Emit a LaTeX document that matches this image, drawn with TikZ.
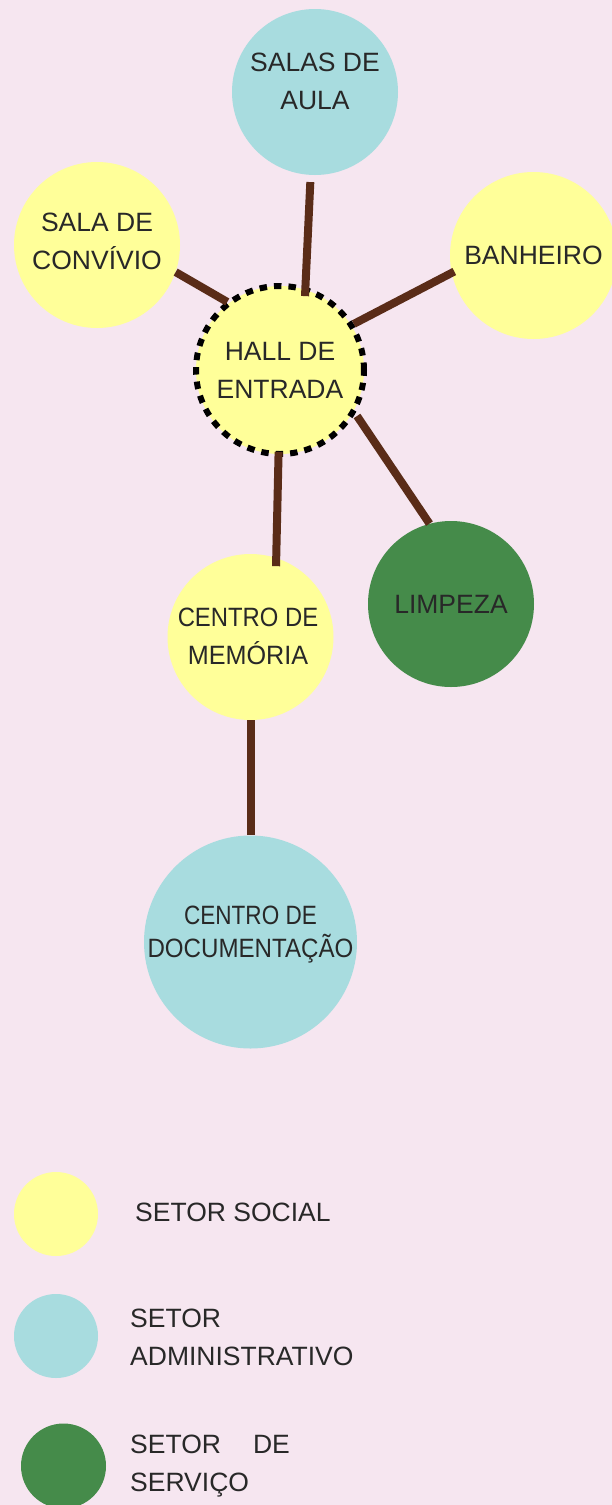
\documentclass[tikz,border=0pt]{standalone}
\usepackage{fontspec}
\setmainfont{Liberation Sans}
\usepackage{tikz}
\usetikzlibrary{positioning, backgrounds}
\definecolor{BGPink}{RGB}{246,230,240}
\definecolor{SocYellow}{RGB}{255,255,153}
\definecolor{AdmCyan}{RGB}{168,220,223}
\definecolor{SrvGreen}{RGB}{69,139,74}
\definecolor{LinkBrown}{RGB}{90,44,24}
\definecolor{TxtGray}{RGB}{40,40,40}

\begin{document}
\begin{tikzpicture}[x=1pt, y=-1pt,
          room/.style={circle, draw=none, inner sep=0pt},
          rtxt/.style={align=center, inner sep=0pt, text=TxtGray,
                       font=\fontsize{26.5}{38}\selectfont},
          ltxt/.style={align=left, anchor=west, inner sep=0pt, text=TxtGray,
                       font=\fontsize{26.5}{38}\selectfont},
          link/.style={LinkBrown, line width=8pt}
        ]
        \useasboundingbox (0,0) rectangle (612,1505);
        \fill[BGPink] (0,0) rectangle (612,1505);

        % rooms
        \node[room, fill=AdmCyan, minimum size=166pt]   (salas) at (315,92) {};
        \node[room, fill=SocYellow, minimum size=166pt] (conv)  at (97,245) {};
        \node[room, fill=SocYellow, minimum size=167pt] (banh)  at (533.5,255.5) {};
        \node[room, fill=SocYellow, minimum size=168pt,
              draw=black, line width=6pt, dash pattern=on 7.5pt off 7pt]
              (hall) at (280,370) {};
        \node[room, fill=SrvGreen, minimum size=166pt]  (limp)  at (451,604) {};
        \node[room, fill=SocYellow, minimum size=166pt] (mem)   at (250.5,637) {};
        \node[room, fill=AdmCyan, minimum size=213pt]   (doc)   at (250.5,942) {};

        \node[rtxt] (salas-t) at ([yshift=11pt]salas) {SALAS DE\\AULA};
        \node[rtxt] (conv-t)  at ([yshift=4pt]conv) {SALA DE\\CONVÍVIO};
        \node[rtxt] (banh-t)  at (banh) {BANHEIRO};
        \node[rtxt] (hall-t)  at (hall) {HALL DE\\ENTRADA};
        \node[rtxt] (limp-t)  at (limp) {LIMPEZA};
        \node[rtxt] (mem-t)   at ([xshift=-2.5pt, yshift=1pt]mem)
              {\scalebox{0.9}[1]{CENTRO DE}\\\scalebox{0.95}[1]{MEMÓRIA}};
        \node[rtxt, font=\fontsize{26.5}{33}\selectfont]
              (doc-t) at ([yshift=7pt]doc)
              {\scalebox{0.85}[1]{CENTRO DE}\\\scalebox{0.91}[1]{DOCUMENTAÇÃO}};

        % links
        \draw[link, shorten <=7pt, shorten >=-9.3pt] (salas.267.5) -- (hall.73);
        \draw[link, shorten >=-1pt] (conv.341.8) -- (hall.128.9);
        \draw[link, shorten <=-3pt] (banh.192.6) -- (hall.32.8);
        \draw[link, shorten <=3pt] (hall.330) -- (limp.105.9);
        \draw[link, shorten <=-5pt, shorten >=-8.3pt] (hall.269.2) -- (mem.72.8);
        \draw[link] (mem.south) -- (doc.north);

        % legend
        \node[room, fill=SocYellow, minimum size=84pt] (lg-soc) at (56,1214) {};
        \node[room, fill=AdmCyan, minimum size=84pt]   (lg-adm) at (56,1336) {};
        \node[room, fill=SrvGreen, minimum size=85pt]  (lg-srv) at (63.5,1466) {};
        \node[ltxt] (lg-soc-t) at (135,1212) {SETOR SOCIAL};
        \node[ltxt] (lg-adm-t) at (130,1337) {SETOR\\ADMINISTRATIVO};
        \node[ltxt] (lg-srv-t) at (130,1466) {SETOR\hspace{32pt}DE\\SERVIÇO};
      \end{tikzpicture}
\end{document}
